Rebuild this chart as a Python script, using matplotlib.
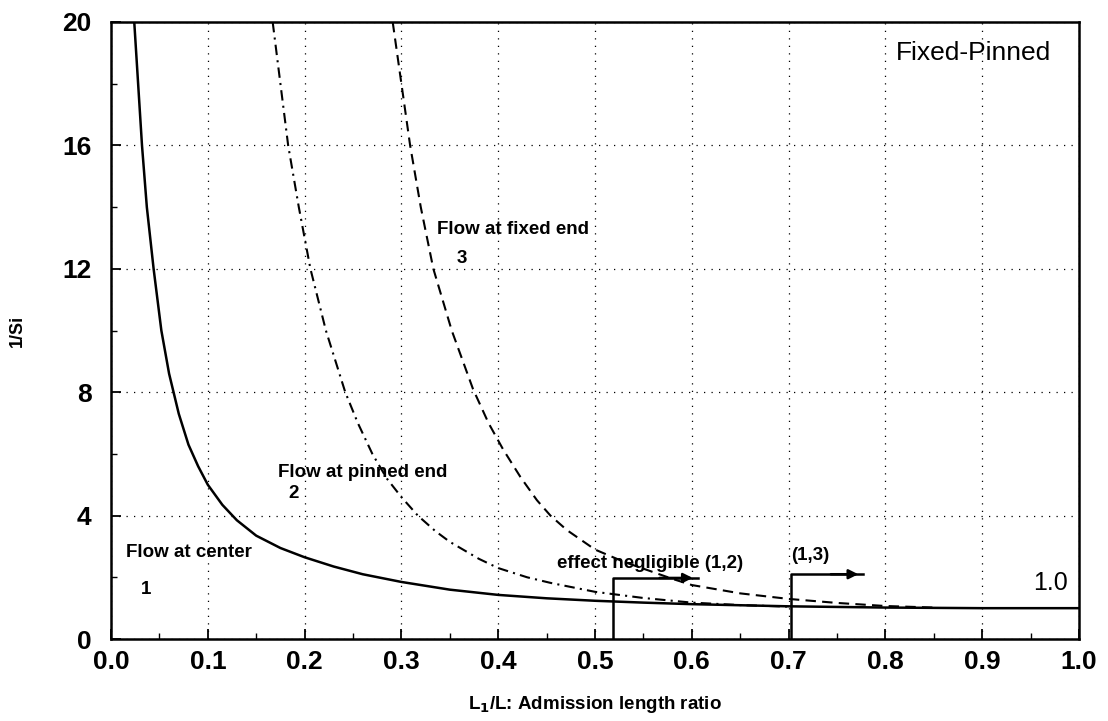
import matplotlib
matplotlib.use("Agg")
import matplotlib.pyplot as plt
from matplotlib.ticker import MultipleLocator

plt.rcParams['font.family'] = ['Liberation Sans', 'DejaVu Sans']

# Curve 1: flow at center (solid)
x_center = [0.024, 0.028, 0.032, 0.037, 0.044, 0.052, 0.060, 0.070, 0.080, 0.090, 0.100,
            0.115, 0.130, 0.150, 0.175, 0.200, 0.230, 0.260, 0.300, 0.350, 0.400, 0.450,
            0.500, 0.550, 0.600, 0.700, 0.800, 0.900, 1.0]
y_center = [20, 18, 16, 14, 12, 10, 8.6, 7.3, 6.3, 5.6, 5.0,
            4.35, 3.85, 3.35, 2.95, 2.65, 2.35, 2.1, 1.85, 1.6, 1.43, 1.32,
            1.24, 1.18, 1.13, 1.06, 1.02, 1.0, 1.0]

# Curve 2: flow at pinned end (dash-dot)
x_pinned = [0.167, 0.175, 0.183, 0.194, 0.206, 0.222, 0.242, 0.255, 0.270, 0.285, 0.300,
            0.317, 0.335, 0.350, 0.380, 0.400, 0.430, 0.454, 0.500, 0.550, 0.600, 0.650, 0.700]
y_pinned = [20, 18, 16, 14, 12, 10, 8, 7.0, 6.0, 5.2, 4.6,
            4.0, 3.5, 3.15, 2.6, 2.3, 2.0, 1.82, 1.53, 1.33, 1.18, 1.1, 1.05]

# Curve 3: flow at fixed end (dashed)
x_fixed = [0.291, 0.300, 0.309, 0.320, 0.333, 0.352, 0.374, 0.390, 0.405, 0.423, 0.440,
           0.454, 0.471, 0.500, 0.530, 0.550, 0.580, 0.600, 0.650, 0.700, 0.750, 0.800, 0.850]
y_fixed = [20, 18, 16, 14, 12, 10, 8.1, 7.0, 6.15, 5.25, 4.5,
           4.0, 3.53, 2.9, 2.5, 2.28, 1.95, 1.75, 1.48, 1.3, 1.17, 1.07, 1.02]

# "effect negligible" markers: (x position, bracket height, arrow end)
neg_x = [0.519, 0.703]
neg_h = [1.98, 2.1]
neg_end = [0.606, 0.777]

x_ticks = [0.0, 0.1, 0.2, 0.3, 0.4, 0.5, 0.6, 0.7, 0.8, 0.9, 1.0]
x_ticklabels = ['0.0', '0.1', '0.2', '0.3', '0.4', '0.5', '0.6', '0.7', '0.8', '0.9', '1.0']
y_ticks = [0, 4, 8, 12, 16, 20]
y_ticklabels = ['0', '4', '8', '12', '16', '20']

fig = plt.figure(figsize=(11.08, 7.21), dpi=100)
ax = fig.add_axes([0.1002, 0.1137, 0.8736, 0.8558])

ax.plot(x_center, y_center, color='black', lw=1.8, ls='-')
ax.plot(x_pinned, y_pinned, color='black', lw=1.5, ls=(0, (5, 2.5, 1, 2.5)))
ax.plot(x_fixed, y_fixed, color='black', lw=1.5, ls=(0, (5, 3)))

for xv, hv, xe in zip(neg_x, neg_h, neg_end):
    ax.plot([xv, xv, xe], [0, hv, hv], color='black', lw=1.8)
    ax.annotate('', xy=(xe - 0.005, hv), xytext=(xv + (xe - xv) * 0.55, hv),
                arrowprops=dict(arrowstyle='-|>', color='black', lw=1.8,
                                mutation_scale=14, shrinkA=0, shrinkB=0))

ax.set_xlim(0, 1.0)
ax.set_ylim(0, 20)
ax.set_xticks(x_ticks)
ax.set_xticklabels(x_ticklabels, fontsize=19, fontweight='bold')
ax.set_yticks(y_ticks)
ax.set_yticklabels(y_ticklabels, fontsize=19, fontweight='bold')
ax.xaxis.set_minor_locator(MultipleLocator(0.05))
ax.yaxis.set_minor_locator(MultipleLocator(2))
ax.tick_params(which='major', direction='in', length=7, width=1.3, pad=8)
ax.tick_params(axis='y', which='major', pad=14)
ax.tick_params(which='minor', direction='in', length=4, width=1.0)
ax.grid(True, which='major', ls=(0, (1, 5)), color='black', lw=0.9)
for s in ax.spines.values():
    s.set_linewidth(1.8)

ax.set_xlabel('L$_\\mathbf{1}$/L: Admission length ratio', fontsize=13.5, fontweight='bold', labelpad=14)
ax.set_ylabel('1/Si', fontsize=13, fontweight='bold', labelpad=26)

ax.text(0.891, 19.0, 'Fixed-Pinned', fontsize=19, ha='center', va='center')
ax.text(0.0155, 2.79, 'Flow at center', fontsize=13.5, fontweight='bold', ha='left', va='center')
ax.text(0.031, 1.59, '1', fontsize=13.5, fontweight='bold', ha='left', va='center')
ax.text(0.173, 5.41, 'Flow at pinned end', fontsize=13.5, fontweight='bold', ha='left', va='center')
ax.text(0.183, 4.73, '2', fontsize=13.5, fontweight='bold', ha='left', va='center')
ax.text(0.337, 13.26, 'Flow at fixed end', fontsize=13.5, fontweight='bold', ha='left', va='center')
ax.text(0.357, 12.35, '3', fontsize=13.5, fontweight='bold', ha='left', va='center')
ax.text(0.461, 2.46, 'effect negligible (1,2)', fontsize=13.5, fontweight='bold', ha='left', va='center')
ax.text(0.703, 2.72, '(1,3)', fontsize=13.5, fontweight='bold', ha='left', va='center')
ax.text(0.989, 1.8, '1.0', fontsize=18, ha='right', va='center')

fig.savefig('out.png', dpi=100)
